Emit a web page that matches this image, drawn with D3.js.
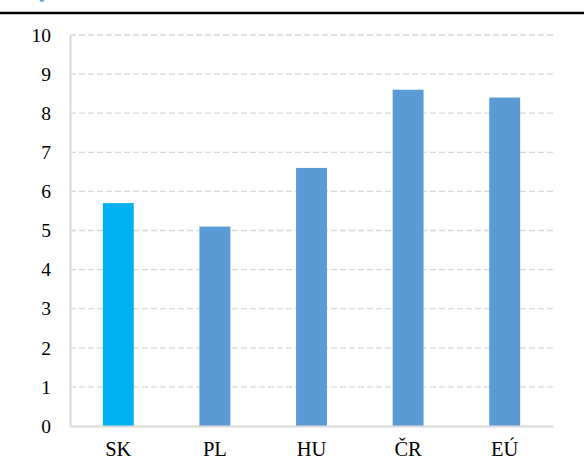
<!DOCTYPE html>
<html>
<head>
<meta charset="utf-8">
<script src="https://cdn.jsdelivr.net/npm/d3@7"></script>
<style>
  body { margin: 0; background: #fff; }
  svg text { font-family: "Liberation Serif", "Times New Roman", serif !important; fill: #000; }
</style>
</head>
<body>
<div id="chart"></div>
<script>
var categories = ["SK", "PL", "HU", "ČR", "EÚ"];
var values = [5.7, 5.1, 6.6, 8.6, 8.4];
var yTicks = [0, 1, 2, 3, 4, 5, 6, 7, 8, 9, 10];
var highlight = "SK";

var W = 584, H = 472;
var margin = {top: 35, right: 31, bottom: 46, left: 70};
var width = W - margin.left - margin.right,
    height = H - margin.top - margin.bottom;
var serif = "Liberation Serif";

var svg = d3.select("#chart").append("svg")
    .attr("width", W)
    .attr("height", H);

// header rule + cut-off mark at the top
svg.append("line")
    .attr("x1", 0).attr("x2", W)
    .attr("y1", 13).attr("y2", 13)
    .style("stroke", "#000")
    .style("stroke-width", 2.5);
svg.append("ellipse")
    .attr("cx", 42).attr("cy", 0)
    .attr("rx", 2.5).attr("ry", 2)
    .style("fill", "#6aa6e0");

var g = svg.append("g")
    .attr("transform", "translate(" + margin.left + "," + margin.top + ")");

var x = d3.scaleBand().domain(categories).range([0, width]).paddingInner(0.68).paddingOuter(0.34);
var y = d3.scaleLinear().domain([0, 10]).range([height, 0]);

// gridlines
g.selectAll(".grid")
    .data(yTicks.filter(function(d) { return d > 0; }))
  .enter().append("line")
    .attr("x1", 0).attr("x2", width)
    .attr("y1", function(d) { return y(d); })
    .attr("y2", function(d) { return y(d); })
    .style("stroke", "#d9d9d9")
    .style("stroke-width", 1.3)
    .style("stroke-dasharray", "6,3");

// bars
g.selectAll(".bar")
    .data(values)
  .enter().append("rect")
    .attr("x", function(d, i) { return x(categories[i]); })
    .attr("width", x.bandwidth())
    .attr("y", function(d) { return y(d); })
    .attr("height", function(d) { return height - y(d); })
    .style("fill", function(d, i) { return categories[i] == highlight ? "#00B0F0" : "#5B9BD5"; });

// y axis
var yAxis = g.append("g")
    .call(d3.axisLeft(y).tickValues(yTicks).tickSize(0).tickPadding(19))
    .attr("font-family", serif)
    .attr("font-size", 19.5);
yAxis.select(".domain").style("stroke", "#d9d9d9").style("stroke-width", 2);

// x axis
var xAxis = g.append("g")
    .attr("transform", "translate(0," + height + ")")
    .call(d3.axisBottom(x).tickSize(0).tickPadding(15))
    .attr("font-family", serif)
    .attr("font-size", 20.5);
xAxis.select(".domain").style("stroke", "#d9d9d9").style("stroke-width", 2);
</script>
</body>
</html>
